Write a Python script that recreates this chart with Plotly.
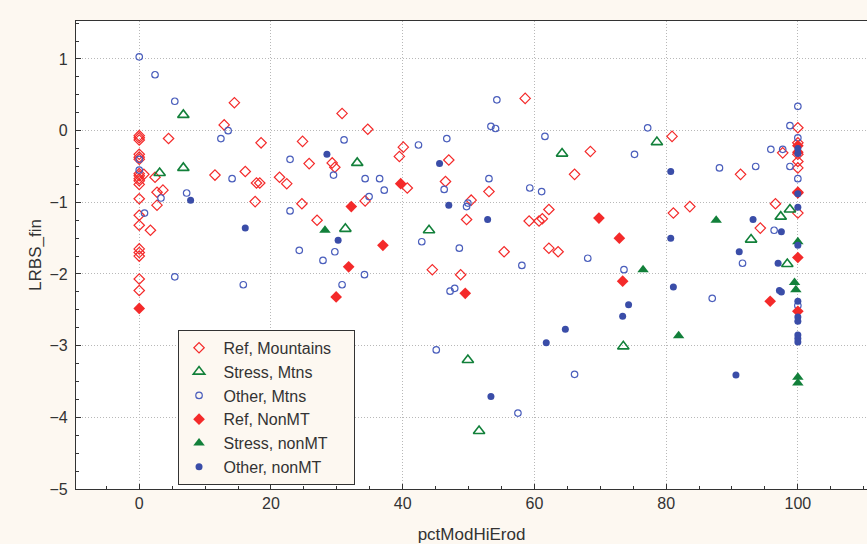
import plotly.graph_objects as go

# ---- data ----
ref_mtn_x = [0]*19 + [4.45, 14.45, 12.9, 18.5, 24.8, 25.8, 29.3, 29.7, 2.4, 0.7, 2.7, 3.6, 2.7, 1.7,
             11.5, 16.1, 17.8, 18.3, 17.6, 21.3, 22.4, 24.7, 27.0, 30.8, 34.7, 40.1, 39.5, 47.0,
             40.7, 46.5, 34.3, 50.4, 53.1, 49.7, 58.6, 59.2, 60.7, 61.2, 62.2, 55.4, 62.2, 63.6,
             44.5, 48.8, 68.5, 66.1, 80.9, 81.1, 83.6, 91.3, 96.6, 97.7, 94.3] + [100]*7
ref_mtn_y = [-0.07, -0.1, -0.13, -0.33, -0.37, -0.4, -0.6, -0.63, -0.67, -0.7, -0.75, -0.95,
             -1.18, -1.32, -1.65, -1.7, -1.75, -2.07, -2.23,
             -0.11, 0.39, 0.08, -0.17, -0.15, -0.46, -0.45, -0.51, -0.65, -0.61, -0.86, -0.83, -1.04, -1.39,
             -0.62, -0.57, -0.73, -0.73, -0.99, -0.65, -0.74, -1.02, -1.25, 0.24, 0.02, -0.23, -0.36, -0.41,
             -0.8, -0.71, -0.98, -0.97, -0.85, -1.24, 0.45, -1.26, -1.26, -1.23, -1.1, -1.69, -1.64, -1.69,
             -1.94, -2.01, -0.29, -0.61, -0.08, -1.15, -1.06, -0.61, -1.02, -0.31, -1.36,
             0.04, -0.17, -0.33, -0.43, -0.52, -0.86, -1.15]

stress_mtn_x = [6.7, 3.1, 6.7, 33.1, 31.3, 44.0, 64.2, 78.6, 92.9, 97.4, 98.8, 98.4, 49.9, 73.5, 51.6]
stress_mtn_y = [0.22, -0.59, -0.52, -0.45, -1.37, -1.39, -0.32, -0.16, -1.52, -1.2, -1.1, -1.86, -3.2, -3.01, -4.19]

other_mtn_x = [0, 2.4, 5.4, 13.5, 12.4, 0, 0, 22.9, 14.1, 7.2, 3.3, 0.8, 22.9, 24.3, 27.9, 5.4, 15.8,
               31.1, 42.4, 46.7, 29.5, 34.3, 36.5, 37.2, 34.9, 46.3, 49.9, 49.7, 53.1, 54.3, 53.4, 54.1,
               61.6, 59.3, 61.1, 42.9, 29.7, 34.2, 30.8, 48.6, 58.1, 47.2, 47.9,
               77.2, 75.2, 88.1, 93.6, 95.9, 97.7, 98.8, 98.8, 100, 100, 100, 68.1, 73.6, 96.4, 91.6, 87.0,
               100, 45.1, 66.1, 57.5]
other_mtn_y = [1.03, 0.78, 0.41, 0.0, -0.11, -0.4, -0.55, -0.4, -0.67, -0.87, -0.94, -1.15, -1.12, -1.67,
               -1.81, -2.04, -2.15, -0.13, -0.2, -0.11, -0.62, -0.67, -0.67, -0.83, -0.92, -0.82, -1.01,
               -1.06, -0.67, 0.43, 0.06, 0.03, -0.08, -0.8, -0.85, -1.55, -1.69, -2.01, -2.15, -1.64,
               -1.88, -2.24, -2.2, 0.04, -0.33, -0.52, -0.5, -0.26, -0.26, -0.5, 0.07, 0.34, -0.1, -0.67,
               -1.78, -1.94, -1.39, -1.85, -2.34, -2.44, -3.06, -3.4, -3.94]

ref_non_x = [0, 39.7, 32.2, 37.0, 31.8, 29.9, 49.5, 69.8, 72.9, 73.4, 95.8, 100, 100, 100, 100, 100]
ref_non_y = [-2.48, -0.74, -1.06, -1.6, -1.9, -2.32, -2.27, -1.22, -1.5, -2.1, -2.38,
             -0.21, -0.3, -0.87, -1.77, -2.52]

stress_non_x = [28.2, 87.6, 76.5, 81.9, 99.5, 99.7, 100, 100, 100]
stress_non_y = [-1.39, -1.25, -1.94, -2.86, -2.12, -2.22, -1.55, -3.44, -3.52]

other_non_x = [7.8, 16.1, 28.5, 45.6, 47.0, 52.9, 30.2, 80.7, 80.7, 93.2, 97.5, 91.1, 97.0, 81.1,
               97.2, 97.5, 53.4, 61.8, 64.7, 73.4, 74.3, 90.6] + [100]*11
other_non_y = [-0.97, -1.36, -0.33, -0.46, -1.04, -1.24, -1.53, -0.57, -1.5, -1.24, -1.41, -1.69,
               -1.85, -2.18, -2.23, -2.25, -3.71, -2.96, -2.77, -2.59, -2.43, -3.41,
               -0.25, -0.32, -0.88, -1.07, -1.6, -2.38, -2.6, -2.66, -2.85, -2.9, -2.95]

series_names = ["Ref, Mountains", "Stress, Mtns", "Other, Mtns", "Ref, NonMT", "Stress, nonMT", "Other, nonMT"]

RED = "#F42A2A"
GREEN = "#12803A"
BLUE = "#3A4DA8"
BLUE_OPEN = "#4A5EBC"

markers = [
    dict(symbol="diamond-open", size=8, color=RED, line=dict(width=1.2, color=RED)),
    dict(symbol="triangle-up-open", size=10, color=GREEN, line=dict(width=1.6, color=GREEN)),
    dict(symbol="circle-open", size=6.5, color=BLUE_OPEN, line=dict(width=1.2, color=BLUE_OPEN)),
    dict(symbol="diamond", size=9, color=RED, line=dict(width=0)),
    dict(symbol="triangle-up", size=10, color=GREEN, line=dict(width=0)),
    dict(symbol="circle", size=7, color=BLUE, line=dict(width=0)),
]
xs_all = [ref_mtn_x, stress_mtn_x, other_mtn_x, ref_non_x, stress_non_x, other_non_x]
ys_all = [ref_mtn_y, stress_mtn_y, other_mtn_y, ref_non_y, stress_non_y, other_non_y]

NB = "\u00a0"
fig = go.Figure()
for i, name in enumerate(series_names):
    label = NB + name + (NB * 4 if i == 0 else "")
    fig.add_trace(go.Scatter(x=xs_all[i], y=ys_all[i], mode="markers", name=label,
                             marker=markers[i]))

FONT = "Liberation Sans, Arial, sans-serif"
GRID = dict(showgrid=True, gridcolor="#B8B8B8", griddash="1px,2px", gridwidth=1)
fig.update_layout(
    width=867, height=544,
    margin=dict(l=76, r=0, t=21, b=55),
    paper_bgcolor="#FDF8F1",
    plot_bgcolor="#FFFFFF",
    font=dict(family=FONT, size=16, color="#333333"),
    showlegend=True,
    legend=dict(x=0.129, y=0.34, xanchor="left", yanchor="top",
                bgcolor="#FDF8F1", bordercolor="#333333", borderwidth=1,
                font=dict(family=FONT, size=16, color="#333333"),
                itemsizing="trace"),
    xaxis=dict(range=[-9.6, 110.5], tickvals=[0, 20, 40, 60, 80, 100], **GRID,
               zeroline=False, showline=True, linecolor="#333333", linewidth=1.3, mirror=True,
               ticks="inside", ticklen=5, tickcolor="#333333",
               minor=dict(dtick=5, tick0=0, ticks="inside", ticklen=3, tickcolor="#333333", showgrid=False),
               title=dict(text="pctModHiErod", font=dict(size=17), standoff=19),
               tickfont=dict(size=16)),
    yaxis=dict(range=[-5, 1.53], tickvals=[-5, -4, -3, -2, -1, 0, 1], **GRID,
               zeroline=False, showline=True, linecolor="#333333", linewidth=1.3, mirror=True,
               ticks="inside", ticklen=5, tickcolor="#333333",
               minor=dict(dtick=0.25, tick0=0, ticks="inside", ticklen=3, tickcolor="#333333", showgrid=False),
               title=dict(text="LRBS_fin", font=dict(size=17), standoff=3),
               tickfont=dict(size=16), ticklabelstandoff=4),
)

fig.write_html("out.html")
